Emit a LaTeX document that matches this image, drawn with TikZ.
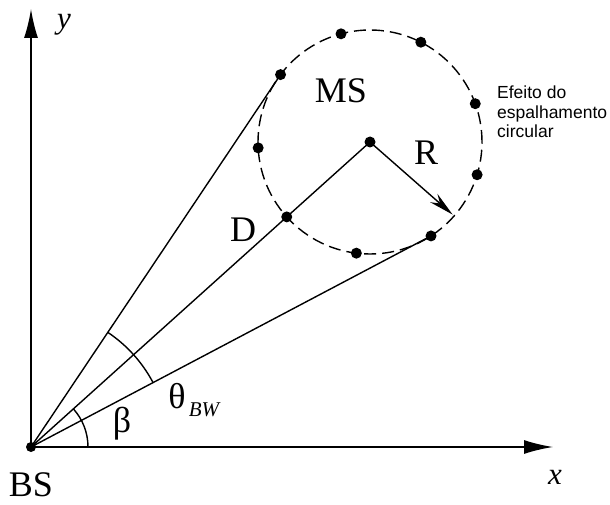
\documentclass[tikz,border=0pt]{standalone}
\usepackage{fontspec}
\setmainfont{Liberation Serif}
\newfontfamily\notefont{Liberation Sans}
\usetikzlibrary{calc,arrows.meta}
\begin{document}
\begin{tikzpicture}[x=1pt,y=1pt,
  dot/.style={circle,fill=black,inner sep=0pt,minimum size=11pt},
  ln/.style={line width=1.4pt},
  axis/.style={line width=1.6pt,-{Latex[length=29pt,width=14pt]}},
  big/.style={inner sep=0pt,font=\fontsize{36}{38}\selectfont},
  ital/.style={inner sep=0pt,font=\fontsize{31}{33}\selectfont\itshape},
  note/.style={inner sep=0pt,anchor=base west,font=\notefont\fontsize{17.5}{19.5}\selectfont}]
\useasboundingbox (0,0) rectangle (610,504);
\fill[white] (0,0) rectangle (610,504);
% key points
\coordinate (O) at (31,57);
\coordinate (xe) at (553,57);
\coordinate (ye) at (31,495);
\coordinate (C) at (370,362);
% dashed scattering circle
\draw[ln,dash pattern=on 12pt off 6pt] (C) circle[radius=112];
% scatterer dots
\node[dot] (d105) at ($(C)+(105:112)$) {};
\node[dot] (d63) at ($(C)+(63:112)$) {};
\node[dot] (d143) at ($(C)+(143:112)$) {};
\node[dot] (d20) at ($(C)+(20:112)$) {};
\node[dot] (d183) at ($(C)+(183:112)$) {};
\node[dot] (dm17) at ($(C)+(-17:112)$) {};
\node[dot] (d222) at ($(C)+(221.98:112)$) {};
\node[dot] (dm97) at ($(C)+(-97:112)$) {};
\node[dot] (dm57) at ($(C)+(-57:112)$) {};
\node[dot] (cdot) at (C) {};
\node[dot,minimum size=10pt] (bs) at (O) {};
% axes
\draw[axis] (O) -- (xe);
\draw[axis] (O) -- (ye);
% beam lines
\draw[ln] (bs.center) -- (d143.center);
\draw[ln] (bs.center) -- (cdot.center);
\draw[ln] (bs.center) -- (dm57.center);
% radius arrow
\coordinate (Rtip) at ($(C)+(-41.3:110)$);
\draw[ln,-{Stealth[length=25pt,width=11pt]}] (cdot.center) -- (Rtip);
% angle arcs
\draw[ln] ($(O)+(27.82:138)$) arc[start angle=27.82,end angle=56.17,radius=138];
\draw[ln] ($(O)+(0:57)$) arc[start angle=0,end angle=41.98,radius=57];
% labels
\node[ital] (ylab) at (64,479) {y};
\node[ital] (xlab) at (555,27) {x};
\node[big] (bslab) at (31,19) {BS};
\node[big] (mslab) at (341,413) {MS};
\node[big] (rlab) at (426,351) {R};
\node[big] (dlab) at (243,274) {D};
\node[big] (thlab) at (177,108) {θ};
\node[inner sep=0pt,font=\fontsize{21}{23}\selectfont\itshape] (bwlab) at (204,94) {BW};
\node[big] (betalab) at (122,80) {β};
\node[note] (t1) at (497,405) {Efeito do};
\node[note] (t2) at (497,385.5) {espalhamento};
\node[note] (t3) at (497,366) {circular};
\end{tikzpicture}
\end{document}
